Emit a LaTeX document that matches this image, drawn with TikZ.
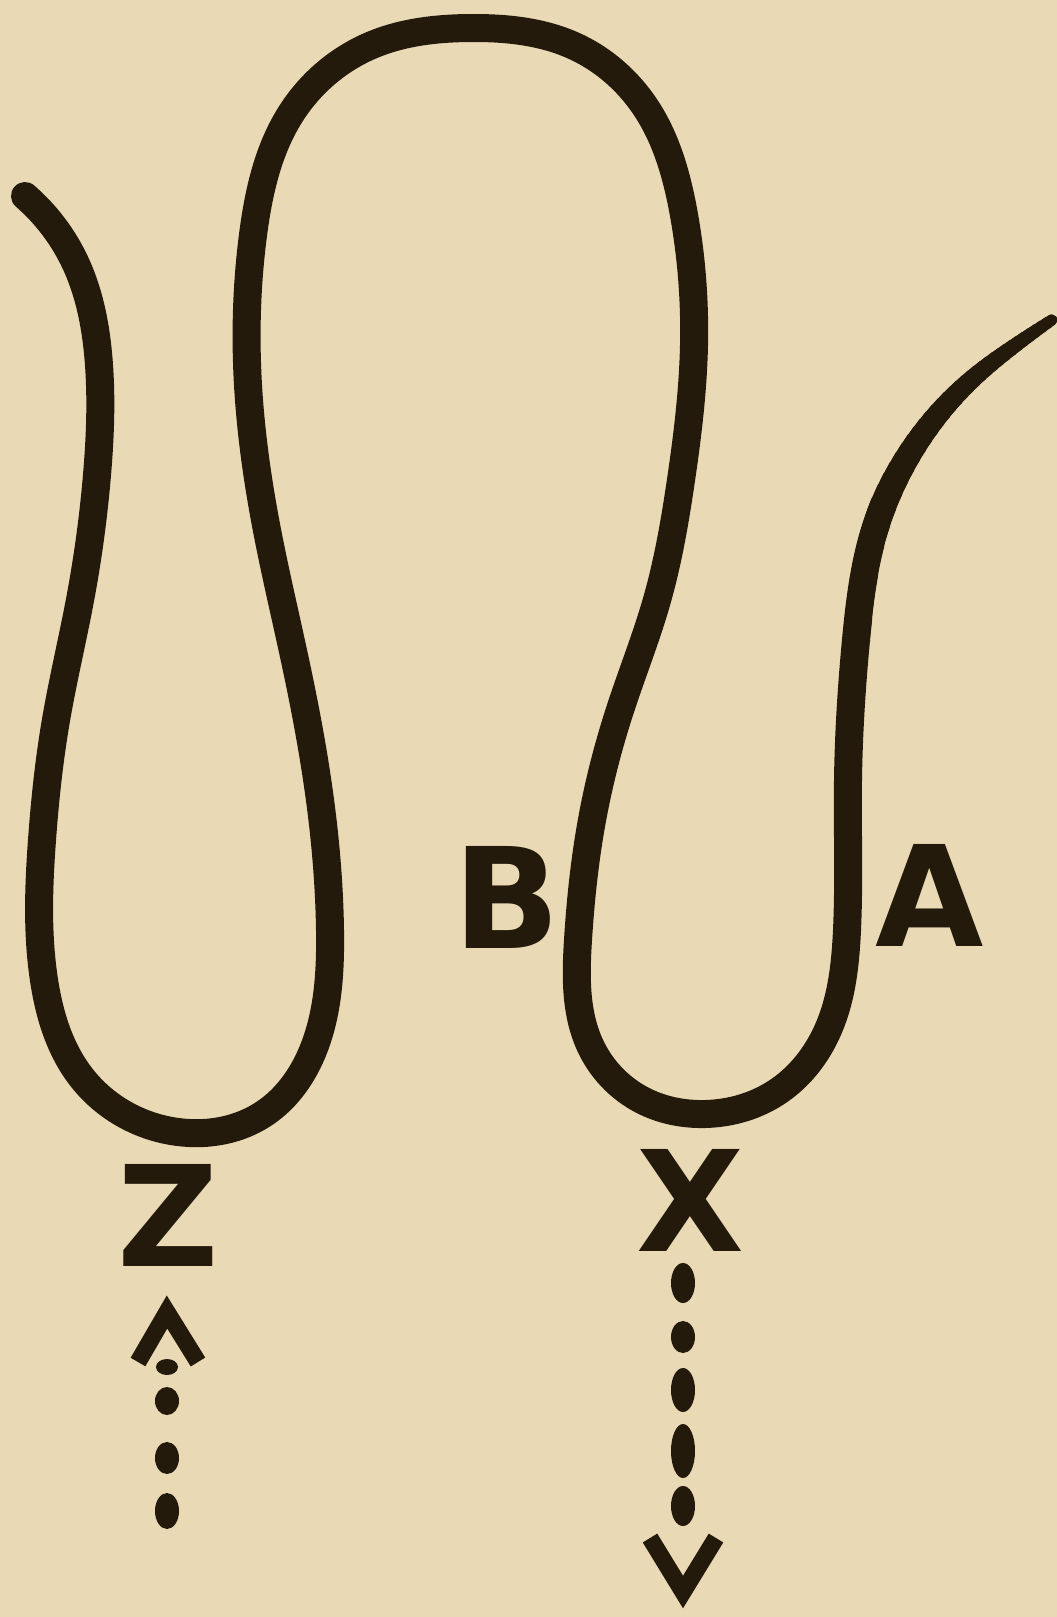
\documentclass[tikz,border=0pt]{standalone}
\usepackage{fontspec}
\usetikzlibrary{hobby}
\newfontfamily\lblfont{DejaVu Sans}
\definecolor{bg}{HTML}{E9DAB5}
\definecolor{ink}{HTML}{231A0B}
\tikzset{
  rope/.style={draw=ink, line cap=round, line join=round},
  lbl/.style={inner sep=0pt, text=ink, font=\lblfont\bfseries\fontsize{140}{140}\selectfont},
  chev/.style={draw=ink, line width=17pt, line join=miter, line cap=butt},
  dot/.style={fill=ink}
}
\begin{document}
\begin{tikzpicture}[x=1pt,y=-1pt]
\fill[bg] (0,0) rectangle (1057,1617);
\useasboundingbox (0,0) rectangle (1057,1617);
% rope path (one path, drawn in pieces so that its free end tapers)
\path[use Hobby shortcut, save path=\ropesaved]
 (25,196) .. (75,262) .. (99,365) .. (97,475) .. (80,600) .. (56,720) .. (42,840) .. (44,980)
 .. (82,1078) .. (178,1132) .. (265,1113) .. (314,1048) .. (330,930) .. (320,800) .. (296,665)
 .. (266,525) .. (248,385) .. (253,235) .. (292,112) .. (372,45) .. (472,28) .. (572,45)
 .. (646,108) .. (684,215) .. (694,345) .. (681,480) .. (657,600) .. (620,710) .. (592,820)
 .. (578,940) .. (590,1045) .. (642,1100) .. (705,1114) .. (780,1090) .. (830,1025)
 .. (847,930) .. (848,780) .. (856,640) .. (875,530) .. (904,464) .. (938,415)
 .. (975,377) .. (1016,345) .. (1052,320);
\begin{scope}
  \clip (0,0) rectangle (866,1617) (866,640) rectangle (1057,1617);
  \draw[rope, line width=28pt, use path=\ropesaved];
\end{scope}
\foreach \k in {0,...,34}{
  \pgfmathsetmacro{\xr}{866+6*(\k+1)}
  \pgfmathsetmacro{\wd}{28-0.55*\k}
  \begin{scope}
    \clip (866,0) rectangle (\xr,640);
    \draw[rope, line width=\wd pt, use path=\ropesaved];
  \end{scope}
}
% labels
\node[lbl] (B) at (507,897) {B};
\node[lbl] (A) at (930,895) {A};
\node[lbl] (Z) at (168,1215) {Z};
\node[lbl] (X) at (690,1200) {X};
% dotted arrow up to Z
\coordinate (ztip) at (167,1312);
\draw[chev] (138,1362) -- (ztip) -- (198,1362);
\fill[dot] (167,1367) ellipse [x radius=11, y radius=8];
\fill[dot] (167,1401) ellipse [x radius=12, y radius=14];
\fill[dot] (167,1458) ellipse [x radius=12, y radius=16];
\fill[dot] (167,1511) ellipse [x radius=12, y radius=18];
% dotted arrow down from X
\coordinate (xtip) at (683,1592);
\fill[dot] (683,1283) ellipse [x radius=12, y radius=20];
\fill[dot] (683,1337) ellipse [x radius=12, y radius=16];
\fill[dot] (683,1390) ellipse [x radius=12, y radius=22];
\fill[dot] (683,1451) ellipse [x radius=12, y radius=27];
\fill[dot] (683,1506) ellipse [x radius=12, y radius=20];
\draw[chev] (650,1538) -- (xtip) -- (716,1538);
\end{tikzpicture}
\end{document}
